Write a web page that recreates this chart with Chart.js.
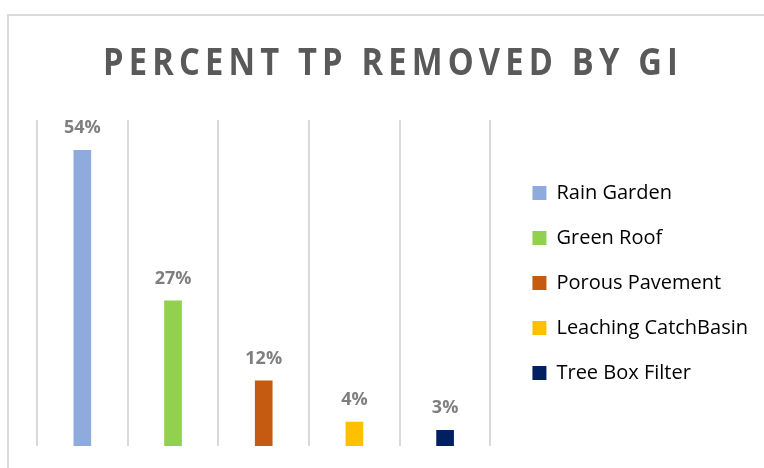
<!DOCTYPE html>
<html>
<head>
<meta charset="utf-8">
<script src="https://cdn.jsdelivr.net/npm/chart.js@4/dist/chart.umd.min.js"></script>
<style>
html, body { margin: 0; padding: 0; background: #ffffff; overflow: hidden; }
canvas { display: block; }
</style>
</head>
<body>
<canvas id="c" width="764" height="468"></canvas>
<script>
const chartTitle = 'PERCENT TP REMOVED BY GI';
const categories = ['Rain Garden', 'Green Roof', 'Porous Pavement', 'Leaching CatchBasin', 'Tree Box Filter'];
const percentRemoved = [54.4, 26.7, 12.0, 4.4, 2.9];
const yRange = [0, 60];
const seriesColors = ['#8faadc', '#92d050', '#c55a11', '#ffc000', '#002060'];

const LEGEND_GAP = 17;

const framePlugin = {
  id: 'frame',
  beforeDraw(chart) {
    const ctx = chart.ctx;
    ctx.save();
    ctx.fillStyle = '#ffffff';
    ctx.fillRect(0, 0, chart.width, chart.height);
    ctx.strokeStyle = '#d9d9d9';
    ctx.lineWidth = 2;
    ctx.beginPath();
    ctx.moveTo(8, chart.height);
    ctx.lineTo(8, 15);
    ctx.lineTo(chart.width, 15);
    ctx.stroke();
    ctx.restore();
  }
};

const legendShiftPlugin = {
  id: 'legendShift',
  afterLayout(chart) {
    if (chart.legend) {
      chart.legend.left += LEGEND_GAP;
      chart.legend.right += LEGEND_GAP;
    }
  }
};

const titlePlugin = {
  id: 'customTitle',
  afterDraw(chart) {
    const ctx = chart.ctx;
    ctx.save();
    ctx.font = 'bold 38px "Open Sans"';
    if ('letterSpacing' in ctx) ctx.letterSpacing = '6px';
    ctx.fillStyle = '#595959';
    ctx.textAlign = 'center';
    ctx.textBaseline = 'alphabetic';
    const w = ctx.measureText(chartTitle).width;
    const sx = 580 / w;
    ctx.translate(393, 75);
    ctx.scale(sx, 1);
    ctx.fillText(chartTitle, 0, 0);
    ctx.restore();
  }
};

const valueLabelPlugin = {
  id: 'valueLabels',
  afterDatasetsDraw(chart) {
    const ctx = chart.ctx;
    const meta = chart.getDatasetMeta(0);
    ctx.save();
    ctx.font = 'bold 18px "Open Sans"';
    ctx.fillStyle = '#7f7f7f';
    ctx.textAlign = 'center';
    ctx.textBaseline = 'alphabetic';
    meta.data.forEach((bar, i) => {
      ctx.fillText(Math.round(percentRemoved[i]) + '%', bar.x, bar.y - 17);
    });
    ctx.restore();
  }
};

new Chart(document.getElementById('c'), {
  type: 'bar',
  data: {
    labels: categories,
    datasets: [{
      label: chartTitle,
      data: percentRemoved,
      backgroundColor: seriesColors,
      borderWidth: 0,
      barThickness: 17
    }]
  },
  options: {
    responsive: false,
    animation: false,
    devicePixelRatio: 1,
    layout: { padding: { top: 120, bottom: 22, left: 37, right: 6 + LEGEND_GAP } },
    scales: {
      x: {
        offset: true,
        grid: { display: true, offset: true, color: '#d9d9d9', lineWidth: 2, drawTicks: false },
        ticks: { display: false },
        border: { display: false }
      },
      y: {
        display: false,
        min: yRange[0],
        max: yRange[1]
      }
    },
    plugins: {
      title: { display: false },
      tooltip: { enabled: false },
      legend: {
        display: true,
        position: 'right',
        align: 'center',
        labels: {
          boxWidth: 14,
          boxHeight: 14,
          padding: 25,
          color: '#595959',
          font: { family: '"Open Sans"', size: 20 },
          generateLabels() {
            return categories.map((name, i) => ({
              text: name,
              fillStyle: seriesColors[i],
              strokeStyle: seriesColors[i],
              lineWidth: 0,
              hidden: false,
              index: i,
              datasetIndex: 0
            }));
          }
        }
      }
    }
  },
  plugins: [framePlugin, legendShiftPlugin, valueLabelPlugin, titlePlugin]
});
</script>
</body>
</html>
